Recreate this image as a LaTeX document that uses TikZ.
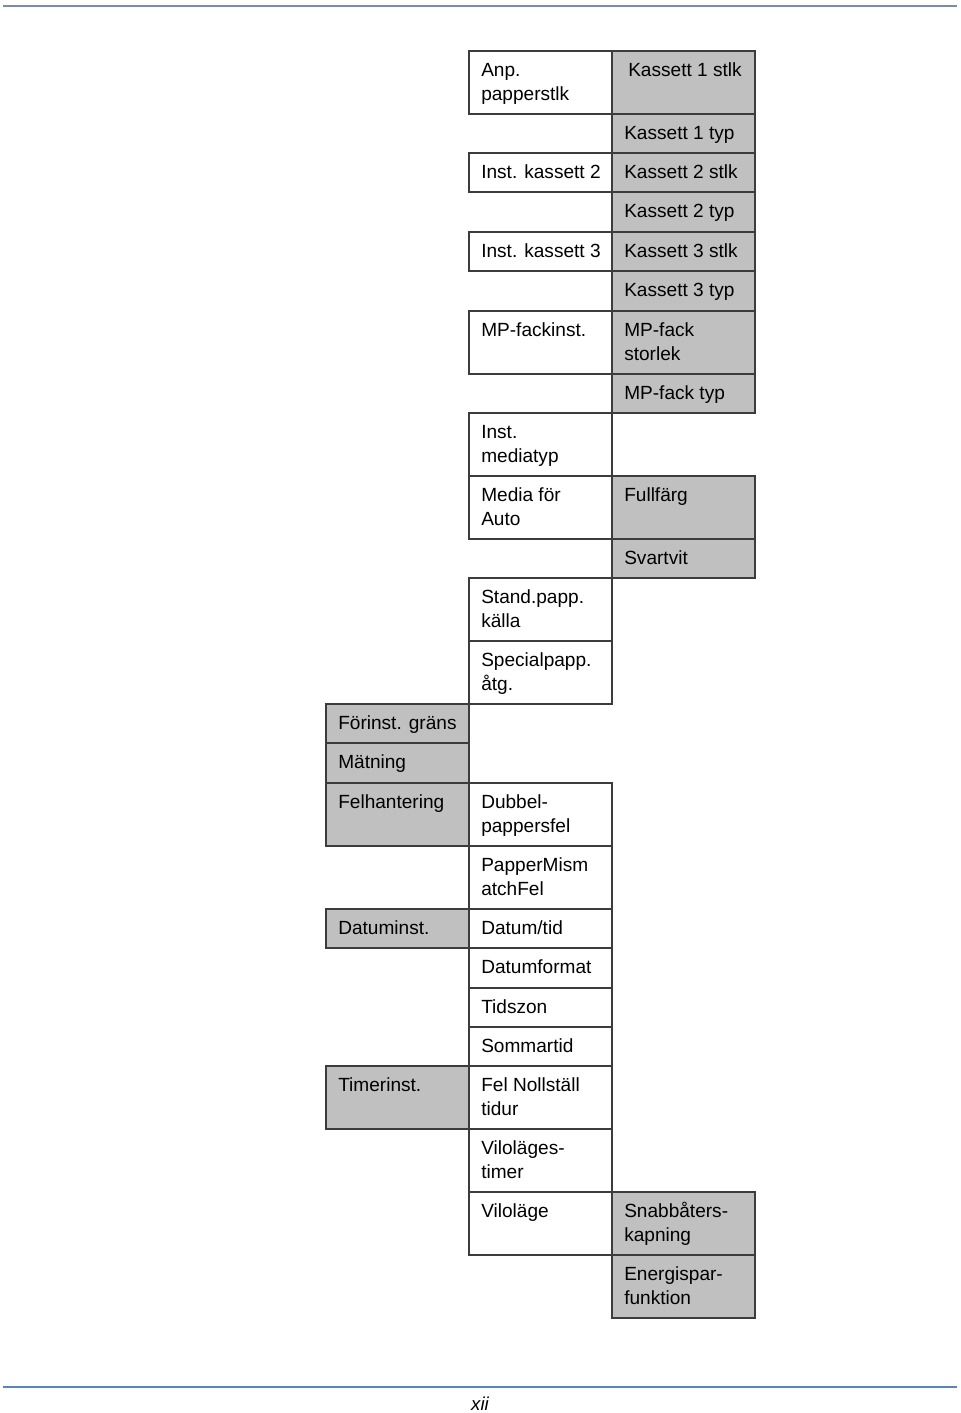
\documentclass[tikz,border=0pt]{standalone}
\usepackage{fontspec}
\setmainfont{Liberation Sans}
\usepackage{xcolor}
\usetikzlibrary{positioning}
\definecolor{CellGray}{RGB}{192,192,192}
\definecolor{RuleGray}{RGB}{60,60,60}
\definecolor{TopBlue}{RGB}{122,140,166}
\definecolor{BotBlue}{RGB}{88,132,182}

\tikzset{
	cellw/.style={draw=RuleGray, line width=1pt, fill=white},
	cellg/.style={draw=RuleGray, line width=1pt, fill=CellGray},
	txt/.style={anchor=north west, inner sep=0pt, align=left,
		font=\fontsize{14.3}{18}\selectfont}
}

\begin{document}
\begin{tikzpicture}[x=0.75pt, y=-0.75pt]
		\useasboundingbox (0,0) rectangle (960,1413);
		\coordinate (TL) at (3,6); \coordinate (TR) at (957,6);
		\coordinate (BL) at (3,1387); \coordinate (BR) at (957,1387);
		\draw[TopBlue, line width=1.6pt] (TL)--(TR);
		\draw[BotBlue, line width=1.6pt] (BL)--(BR);
		% menu cells: name/left/top/height/style/text
		\foreach \n/\x/\y/\h/\s/\t in {
			anp/469/51/63/cellw/{Anp.\\papperstlk},
			kas1s/612/51/63/cellg/{\hspace{3pt}Kassett 1 stlk},
			kas1t/612/114/39/cellg/{Kassett 1 typ},
			ink2/469/153/39/cellw/{Inst. kassett 2},
			kas2s/612/153/39/cellg/{Kassett 2 stlk},
			kas2t/612/192/40/cellg/{Kassett 2 typ},
			ink3/469/232/39/cellw/{Inst. kassett 3},
			kas3s/612/232/39/cellg/{Kassett 3 stlk},
			kas3t/612/271/40/cellg/{Kassett 3 typ},
			mpi/469/311/63/cellw/{MP-fackinst.},
			mps/612/311/63/cellg/{MP-fack\\storlek},
			mpt/612/374/39/cellg/{MP-fack typ},
			imt/469/413/63/cellw/{Inst.\\mediatyp},
			mfa/469/476/63/cellw/{Media för\\Auto},
			ful/612/476/63/cellg/{Fullfärg},
			svv/612/539/39/cellg/{Svartvit},
			spk/469/578/63/cellw/{Stand.papp.\\källa},
			spa/469/641/63/cellw/{Specialpapp.\\åtg.},
			fgr/326/704/39/cellg/{Förinst. gräns},
			mat/326/743/40/cellg/{Mätning},
			fel/326/783/63/cellg/{Felhantering},
			dpf/469/783/63/cellw/{Dubbel-\\pappersfel},
			pmf/469/846/63/cellw/{PapperMism\\atchFel},
			dat/326/909/39/cellg/{Datuminst.},
			dtt/469/909/39/cellw/{Datum/tid},
			dfm/469/948/40/cellw/{Datumformat},
			tzn/469/988/39/cellw/{Tidszon},
			smt/469/1027/39/cellw/{Sommartid},
			tim/326/1066/63/cellg/{Timerinst.},
			fnt/469/1066/63/cellw/{Fel Nollställ\\tidur},
			vlt/469/1129/63/cellw/{Viloläges-\\timer},
			vil/469/1192/63/cellw/{Viloläge},
			sbk/612/1192/63/cellg/{Snabbåters-\\kapning},
			esf/612/1255/63/cellg/{Energispar-\\funktion}}
		{
			\draw[\s] (\x,\y) rectangle ++(143,\h);
			\node[txt] (\n) at (\x+12,\y+8.2) {\strut\t};
		}
		\node[font=\fontsize{14}{16}\selectfont\itshape] (page) at (480,1404) {xii};
	\end{tikzpicture}
\end{document}
